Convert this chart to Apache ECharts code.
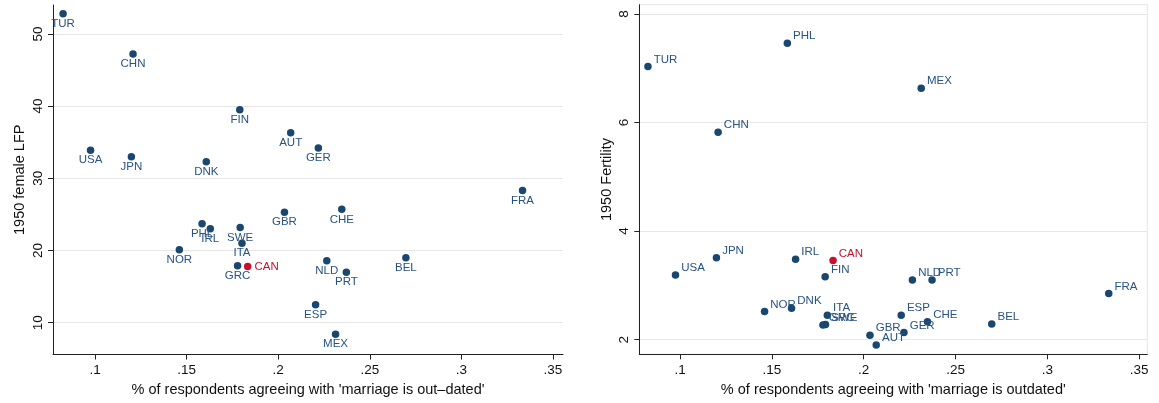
<!DOCTYPE html>
<html><head><meta charset="utf-8">
<script src="https://cdn.jsdelivr.net/npm/echarts@6/dist/echarts.min.js"></script>
<style>html,body{margin:0;padding:0;background:#fff}#c{width:1159px;height:403px}</style>
</head><body><div id="c"></div>
<script>
// ---- data ----
const countries = ['TUR','USA','JPN','CHN','NOR','PHL','DNK','IRL','GRC','FIN','SWE','ITA','CAN','GBR','AUT','ESP','GER','NLD','MEX','CHE','PRT','BEL','FRA'];
const outdated  = [0.0825,0.0975,0.1198,0.1207,0.146,0.1584,0.1607,0.1629,0.1778,0.179,0.1792,0.1802,0.1833,0.2034,0.2068,0.2204,0.2219,0.2265,0.2313,0.2347,0.2372,0.2697,0.3334];
const femaleLFP = [52.8,33.9,33.0,47.2,20.1,23.7,32.3,23.0,17.9,39.5,23.2,21.0,17.8,25.3,36.3,12.5,34.2,18.6,8.4,25.7,17.0,19.0,28.3];
const fertility = [7.03,3.19,3.51,5.82,2.52,7.46,2.58,3.48,2.27,3.16,2.28,2.45,3.46,2.08,1.90,2.45,2.13,3.10,6.63,2.33,3.10,2.29,2.85];
const xTicks    = [0.1,0.15,0.2,0.25,0.3,0.35];
const lfpTicks  = [10,20,30,40,50];
const fertTicks = [2,4,6,8];
const highlight = 'CAN';

// ---- styles ----
const NAVY = '#1a476f', LABEL = '#285382', RED = '#c8102e';
const FONT = '"Liberation Sans", Arial, Helvetica, sans-serif';
const AX = '#222';

function xAxisCfg(gridIndex, min, max, name) {
  return {
    type: 'value', gridIndex, min, max, name,
    nameLocation: 'middle', nameGap: 24,
    nameTextStyle: {fontFamily: FONT, fontSize: 14.5, color: '#111'},
    axisLine: {show: true, onZero: false, lineStyle: {color: AX, width: 1}},
    axisTick: {show: true, length: 5, customValues: xTicks, lineStyle: {color: AX}},
    axisLabel: {customValues: xTicks, formatter: v => String(v).replace(/^0/, ''), margin: 9,
                color: '#111', fontSize: 13.5, fontFamily: FONT},
    splitLine: {show: false}
  };
}
function yAxisCfg(gridIndex, min, max, name, ticks, gap) {
  return {
    type: 'value', gridIndex, min, max, name,
    nameLocation: 'middle', nameGap: gap,
    nameTextStyle: {fontFamily: FONT, fontSize: 14.5, color: '#111'},
    axisLine: {show: true, onZero: false, lineStyle: {color: AX, width: 1}},
    axisTick: {show: true, length: 5, customValues: ticks, lineStyle: {color: AX}},
    axisLabel: {customValues: ticks, rotate: 90, margin: 8, color: '#111', fontSize: 13.5, fontFamily: FONT},
    splitLine: {show: true, customValues: ticks, lineStyle: {color: '#e6e6e6', width: 1}}
  };
}
function buildData(yvals, hlLabel) {
  return countries.map((c, i) => {
    const d = {name: c, value: [outdated[i], yvals[i]]};
    if (c === highlight) {
      d.itemStyle = {color: RED};
      d.label = Object.assign({color: RED}, hlLabel || {});
    }
    return d;
  });
}

const chart = echarts.init(document.getElementById('c'), null, {renderer: 'canvas'});
chart.setOption({
  animation: false,
  backgroundColor: '#fff',
  grid: [
    {left: 53, right: 596, top: 5, bottom: 48.5, show: false},
    {left: 639.3, right: 11.7, top: 4.7, bottom: 48.7, show: true, borderColor: '#e4e4e4', borderWidth: 1, backgroundColor: 'transparent'}
  ],
  xAxis: [
    xAxisCfg(0, 0.077, 0.3555, "% of respondents agreeing with 'marriage is out\u2013dated'"),
    xAxisCfg(1, 0.0778, 0.3544, "% of respondents agreeing with 'marriage is outdated'")
  ],
  yAxis: [
    yAxisCfg(0, 5.6, 54, '1950 female LFP', lfpTicks, 26),
    yAxisCfg(1, 1.73, 8.17, '1950 Fertility', fertTicks, 25)
  ],
  series: [
    {
      type: 'scatter', xAxisIndex: 0, yAxisIndex: 0, symbolSize: 7.5,
      itemStyle: {color: NAVY, opacity: 1},
      label: {show: true, formatter: p => p.name, position: 'inside', offset: [0, 10],
              color: LABEL, fontSize: 11.5, fontFamily: FONT},
      data: buildData(femaleLFP, {position: 'right', distance: 3, offset: [0, 0]})
    },
    {
      type: 'scatter', xAxisIndex: 1, yAxisIndex: 1, symbolSize: 7.5,
      itemStyle: {color: NAVY, opacity: 1},
      label: {show: true, formatter: p => p.name, position: 'right', distance: 2, offset: [0, -7],
              color: LABEL, fontSize: 11.5, fontFamily: FONT},
      data: buildData(fertility)
    }
  ]
});
</script>
</body></html>
